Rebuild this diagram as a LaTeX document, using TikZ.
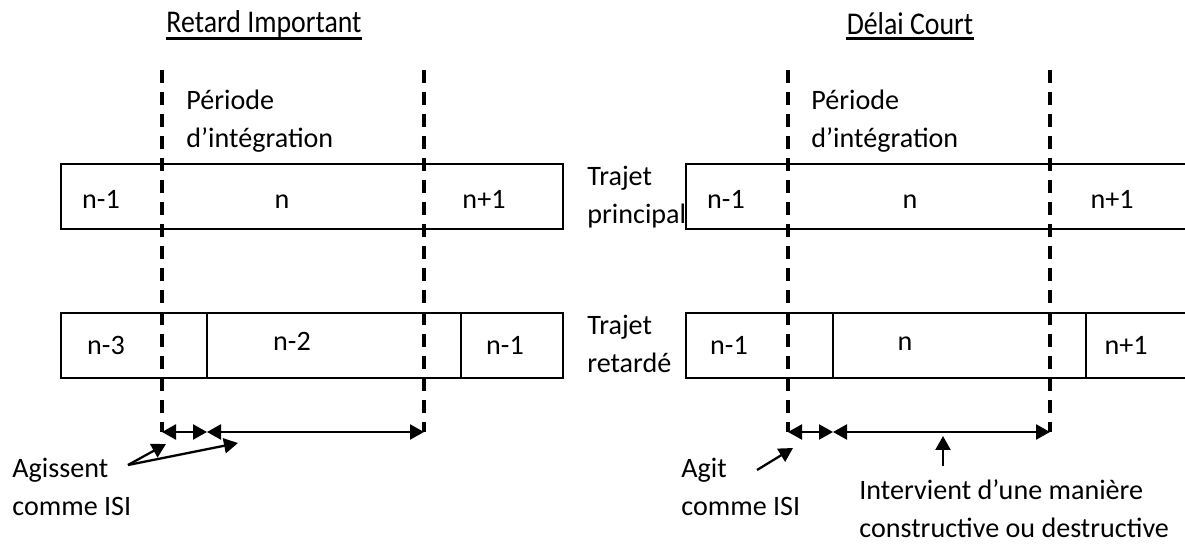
\documentclass[tikz,border=0pt]{standalone}
\usepackage{fontspec}
\setmainfont{Carlito}
\newfontfamily\titlefont[FakeStretch=0.88]{Carlito}
\usetikzlibrary{arrows.meta}

\tikzset{
  lbl/.style={font=\fontsize{16}{21.5}\selectfont, inner sep=0pt},
  num/.style={lbl, anchor=base},
  titre/.style={font=\titlefont\fontsize{18}{20}\selectfont, inner sep=0pt},
  frontier/.style={line width=2.3pt, dash pattern=on 0.26cm off 0.18cm},
  cadre/.style={line width=1.1pt},
  span/.style={<->, line width=1.3pt},
}

\begin{document}
\begin{tikzpicture}[x=0.02cm, y=-0.02cm, >={Triangle[length=0.28cm, width=0.3cm]}]
            \useasboundingbox (0,0) rectangle (1185,546);
            \clip (0,0) rectangle (1185,546);

            % titres
            \node[titre] (tL) at (264,24) {Retard Important};
            \node[titre] (tR) at (910,24) {Délai Court};
            \draw[line width=1.7pt] (tL.west |- 0,39) -- (tL.east |- 0,39);
            \draw[line width=1.7pt] (tR.west |- 0,39) -- (tR.east |- 0,39);

            % retard important
            \draw[cadre] (61,164) rectangle (563,229);
            \draw[cadre] (61,313) rectangle (563,378);
            \draw[cadre] (207,313) -- (207,378) (461,313) -- (461,378);
            \node[num] (pL1) at (101,209) {n-1};
            \node[num] (pL2) at (282,209) {n};
            \node[num] (pL3) at (484,209) {n+1};
            \node[num] (rL1) at (106,355) {n-3};
            \node[num] (rL2) at (292,351) {n-2};
            \node[num] (rL3) at (505,355) {n-1};
            \node[lbl, anchor=west, align=left] (perL) at (186,121) {Période\\d’intégration};

            % delai court
            \draw[cadre] (1200,164) -- (686,164) -- (686,229) -- (1200,229);
            \draw[cadre] (1200,313) -- (686,313) -- (686,378) -- (1200,378);
            \draw[cadre] (833,313) -- (833,378) (1086,313) -- (1086,378);
            \node[num] (pR1) at (726,209) {n-1};
            \node[num] (pR2) at (910,209) {n};
            \node[num] (pR3) at (1112,209) {n+1};
            \node[num] (rR1) at (729,355) {n-1};
            \node[num] (rR2) at (905,351) {n};
            \node[num] (rR3) at (1126,355) {n+1};
            \node[lbl, anchor=west, align=left] (perR) at (811,121) {Période\\d’intégration};
            \node[lbl, anchor=west, align=left] (tp) at (587,197) {Trajet\\principal};
            \node[lbl, anchor=west, align=left] (tr) at (587,344) {Trajet\\retardé};

            % limites de la periode
            \foreach \x in {162,424,788,1050}
                \draw[frontier] (\x,70) -- (\x,432);

            \coordinate (a0) at (162,432);
            \coordinate (a1) at (207,432);
            \coordinate (a2) at (424,432);
            \coordinate (b0) at (788,432);
            \coordinate (b1) at (833,432);
            \coordinate (b2) at (1050,432);
            \draw[span] (a0) -- (a1);
            \draw[span] (a1) -- (a2);
            \draw[span] (b0) -- (b1);
            \draw[span] (b1) -- (b2);

            % annotations
            \node[lbl, anchor=west, align=left] (isiL) at (12,487) {Agissent\\comme ISI};
            \coordinate (sL) at (128,465);
            \draw[->, line width=1.3pt] (sL) -- (166,444);
            \draw[->, line width=1.3pt] (sL) -- (238,443);

            \node[lbl, anchor=west, align=left] (isiR) at (681,487) {Agit\\comme ISI};
            \coordinate (sR) at (757,470);
            \draw[->, line width=1.3pt] (sR) -- (793,448);

            \node[lbl, anchor=west, align=left] (cons) at (859,509) {Intervient d’une manière\\constructive ou destructive};
            \coordinate (c0) at (943,466);
            \draw[->, line width=1.3pt] (c0) -- (943,436);
        \end{tikzpicture}
\end{document}
